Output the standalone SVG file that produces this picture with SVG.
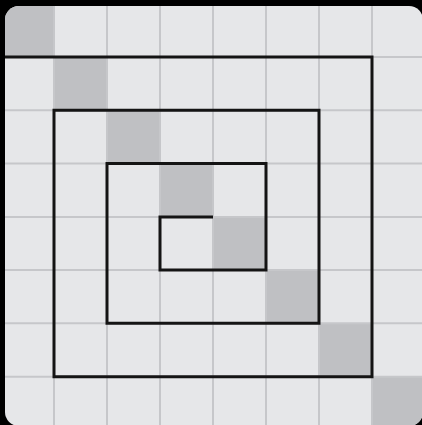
<svg xmlns="http://www.w3.org/2000/svg" width="422" height="425" viewBox="0 0 422 425">
  <style>
    .cell { fill: #bfc0c3; }
    .grid { stroke: #c6c7ca; stroke-width: 2; fill: none; }
    .spiral { stroke: #141414; stroke-width: 3; fill: none; stroke-linejoin: miter; }
  </style>
  <defs>
    <clipPath id="board">
      <rect x="5" y="6" width="418" height="420" rx="14"/>
    </clipPath>
  </defs>
  <rect x="0" y="0" width="422" height="425" fill="#000"/>
  <g id="board-bg" clip-path="url(#board)">
    <rect x="5" y="6" width="420" height="422" fill="#e6e7e9"/>
    <g id="diagonal">
      <rect class="cell" x="5" y="6" width="49" height="51"/>
      <rect class="cell" x="54" y="57" width="53" height="53.3"/>
      <rect class="cell" x="107" y="110.3" width="53" height="53.3"/>
      <rect class="cell" x="160" y="163.6" width="53" height="53.4"/>
      <rect class="cell" x="213" y="217" width="53" height="53"/>
      <rect class="cell" x="266" y="270" width="53" height="53.3"/>
      <rect class="cell" x="319" y="323.3" width="53" height="53.4"/>
      <rect class="cell" x="372" y="376.7" width="53" height="52"/>
    </g>
    <g id="grid" class="grid">
      <path d="M54 0V425M107 0V425M160 0V425M213 0V425M266 0V425M319 0V425M372 0V425"/>
      <path d="M0 57H422M0 110.3H422M0 163.6H422M0 217H422M0 270H422M0 323.3H422M0 376.7H422"/>
    </g>
  </g>
  <g id="connectors">
    <path class="spiral" d="M5 57H372V376.7H54V110.3H319V323.3H107V163.6H266V270H160V217H213"/>
  </g>
</svg>
